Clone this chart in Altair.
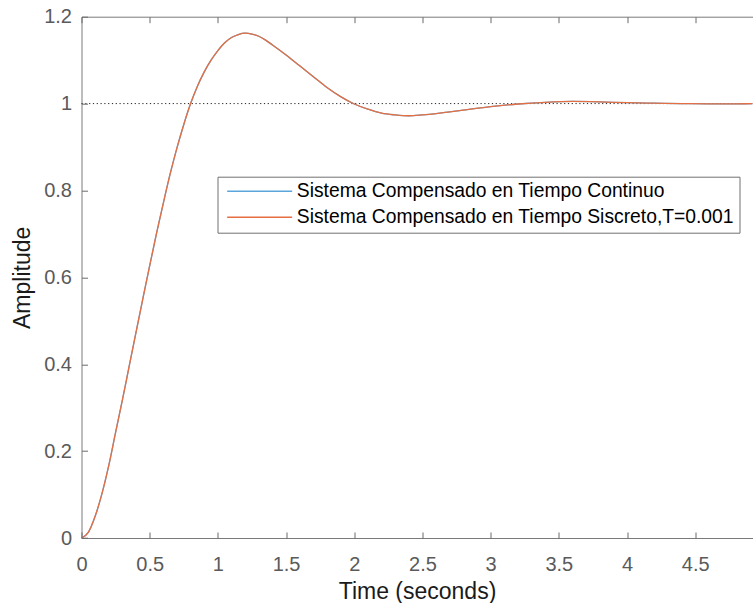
import altair as alt
import pandas as pd

# ---- data ----
time_s = [0, 0.05, 0.1, 0.15, 0.2, 0.25, 0.3, 0.35, 0.4, 0.45, 0.5, 0.55, 0.6, 0.65,
          0.7, 0.75, 0.8, 0.85, 0.9, 0.95, 1.0, 1.05, 1.1, 1.15, 1.2, 1.25, 1.3, 1.35,
          1.4, 1.5, 1.6, 1.7, 1.8, 1.9, 2.0, 2.1, 2.2, 2.3, 2.4, 2.5, 2.6, 2.7, 2.8,
          3.0, 3.2, 3.4, 3.6, 3.8, 4.0, 4.2, 4.4, 4.6, 4.8, 4.92]
continuo = [0, 0.013, 0.05, 0.102, 0.167, 0.243, 0.318, 0.396, 0.474, 0.551, 0.627,
            0.701, 0.771, 0.838, 0.898, 0.952, 1.0, 1.04, 1.073, 1.1, 1.122, 1.14,
            1.152, 1.159, 1.162, 1.16, 1.155, 1.146, 1.135, 1.112, 1.087, 1.062,
            1.037, 1.016, 0.999, 0.987, 0.978, 0.974, 0.972, 0.974, 0.977, 0.981,
            0.985, 0.993, 0.999, 1.003, 1.005, 1.004, 1.002, 1.001, 1.0, 0.9995,
            0.9995, 0.9997]
discreto = [0, 0.013, 0.05, 0.102, 0.167, 0.243, 0.318, 0.396, 0.474, 0.551, 0.627,
            0.701, 0.771, 0.838, 0.898, 0.952, 1.0, 1.04, 1.073, 1.1, 1.122, 1.14,
            1.152, 1.159, 1.162, 1.16, 1.155, 1.146, 1.135, 1.112, 1.087, 1.062,
            1.037, 1.016, 0.999, 0.987, 0.978, 0.974, 0.972, 0.974, 0.977, 0.981,
            0.985, 0.993, 0.999, 1.003, 1.005, 1.004, 1.002, 1.001, 1.0, 0.9995,
            0.9995, 0.9997]
series_names = ["Sistema Compensado en Tiempo Continuo",
                "Sistema Compensado en Tiempo Siscreto,T=0.001"]
steady_value = [1.0]
x_ticks = [0, 0.5, 1, 1.5, 2, 2.5, 3, 3.5, 4, 4.5]
y_ticks = [0, 0.2, 0.4, 0.6, 0.8, 1.0, 1.2]
x_domain = [0, 4.92]
y_domain = [0, 1.2]

df = pd.DataFrame({
    "t": time_s + time_s,
    "y": continuo + discreto,
    "serie": [series_names[0]] * len(time_s) + [series_names[1]] * len(time_s),
})
ref = pd.DataFrame({"t0": [x_domain[0]], "t1": [x_domain[1]], "y": steady_value})

FONT = "Liberation Sans"
AX = "#7a7a7a"

xs = alt.Scale(domain=x_domain, nice=False, zero=False)
ys = alt.Scale(domain=y_domain, nice=False, zero=False)


def tick_axis(orient, values):
    # inward tick marks: axis moved into the plot, ticks pointing back to the edge
    return alt.Axis(orient=orient, offset=-6, tickSize=6, ticks=True, tickColor="#6a6a6a",
                    tickWidth=1, tickOpacity=1, domain=False, labels=False, grid=False,
                    title=None, values=values, zindex=1)


steady = alt.Chart(ref).mark_rule(color="#222222", strokeWidth=1, strokeDash=[1.2, 2.6]).encode(
    x=alt.X("t0:Q", scale=xs, axis=alt.Axis(orient="top", title=None, labels=False, ticks=False,
                                             grid=False, domain=True, domainColor=AX)),
    x2="t1:Q",
    y=alt.Y("y:Q", scale=ys, axis=None),
)

ticks_bl = alt.Chart(ref).mark_rule(opacity=0).encode(
    x=alt.X("t0:Q", scale=xs, axis=tick_axis("bottom", x_ticks)),
    x2="t1:Q",
    y=alt.Y("y:Q", scale=ys, axis=tick_axis("left", y_ticks)),
)
ticks_t = alt.Chart(ref).mark_rule(opacity=0).encode(
    x=alt.X("t0:Q", scale=xs, axis=tick_axis("top", x_ticks)),
    x2="t1:Q",
    y=alt.Y("y:Q", scale=ys, axis=None),
)

lines = alt.Chart(df).mark_line(strokeWidth=1.3, interpolate="monotone").encode(
    x=alt.X("t:Q", scale=xs, axis=alt.Axis(
        orient="bottom", title="Time (seconds)", values=x_ticks, format="~g", ticks=False,
        grid=False, labelPadding=16, labelFontSize=20, labelColor="#5a5a5a", labelFlush=False,
        labelOverlap=False, titleFontSize=23, titleColor="#1a1a1a", titleFontWeight="normal",
        titlePadding=6, domainColor=AX)),
    y=alt.Y("y:Q", scale=ys, axis=alt.Axis(
        orient="left", title="Amplitude", values=y_ticks, format="~g", ticks=False, grid=False,
        labelPadding=10, labelFontSize=20, labelColor="#5a5a5a", labelOverlap=False,
        titleFontSize=23, titleColor="#1a1a1a", titleFontWeight="normal", titlePadding=9,
        domainColor=AX)),
    color=alt.Color("serie:N", scale=alt.Scale(domain=series_names, range=["#5aa6dc", "#e56f42"]),
                    legend=alt.Legend(
                        title=None, orient="none", legendX=136, legendY=160, direction="vertical",
                        symbolType="M-1,0L12,0", symbolSize=100, symbolStrokeWidth=1.5,
                        labelFontSize=19.3, labelColor="#000000", labelOffset=55, labelLimit=1000,
                        padding=5, rowPadding=6, strokeColor="#707070", fillColor="white",
                        cornerRadius=0)),
)

chart = alt.layer(steady, ticks_bl, ticks_t, lines).resolve_axis(
    x="independent", y="independent"
).properties(
    width=671, height=521.3,
    autosize=alt.AutoSizeParams(type="none"),
    padding={"left": 81.5, "top": 16.7, "right": 0.5, "bottom": 65},
    background="white",
).configure(font=FONT).configure_view(stroke=None)

chart.save("out.html", embed_options={"renderer": "svg", "actions": False})
